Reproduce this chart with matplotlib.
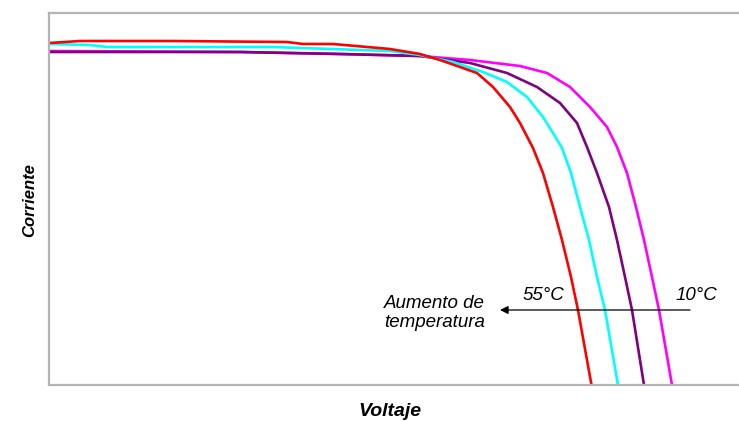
import matplotlib.pyplot as plt

# curvas I-V a distintas temperaturas (voltaje en V, corriente en A)
v_55 = [0, 1.24, 4.96, 9.52, 10.16, 11.36, 13.64, 14.84, 15.64, 16.44, 17.12, 17.76, 18.44,
        18.84, 19.36, 19.76, 20.16, 20.52, 20.88, 21.16, 21.70]
i_55 = [3.42, 3.44, 3.44, 3.43, 3.41, 3.41, 3.36, 3.31, 3.25, 3.18, 3.12, 2.98, 2.78,
        2.62, 2.37, 2.12, 1.78, 1.45, 1.08, 0.75, 0.0]

v_40 = [0, 1.64, 2.32, 8.96, 13.64, 14.84, 16.16, 17.36, 18.32, 19.12, 19.76, 20.16, 20.52,
        20.88, 21.24, 21.60, 21.92, 22.24, 22.76]
i_40 = [3.41, 3.40, 3.38, 3.38, 3.34, 3.30, 3.23, 3.13, 3.03, 2.88, 2.68, 2.52, 2.37,
        2.12, 1.78, 1.45, 1.08, 0.75, 0.0]

v_25 = [0, 7.64, 11.64, 14.84, 16.84, 18.32, 19.52, 20.44, 21.12, 21.52, 21.92, 22.40,
        22.72, 23.04, 23.32, 23.80]
i_25 = [3.33, 3.33, 3.31, 3.29, 3.22, 3.12, 2.98, 2.82, 2.62, 2.38, 2.12, 1.78,
        1.45, 1.08, 0.75, 0.0]

v_10 = [0, 7.64, 11.64, 14.84, 16.84, 18.84, 19.92, 20.84, 21.64, 22.32, 22.72, 23.12,
        23.48, 23.80, 24.12, 24.40, 24.92]
i_10 = [3.34, 3.33, 3.31, 3.29, 3.25, 3.19, 3.12, 2.98, 2.78, 2.58, 2.38, 2.12,
        1.78, 1.45, 1.08, 0.75, 0.0]

plt.rcParams['font.family'] = ['Liberation Sans', 'DejaVu Sans']

fig = plt.figure(figsize=(7.39, 4.21), dpi=100)
ax = fig.add_axes([49 / 739, 36 / 421, 700 / 739, 372 / 421])

lw = 1.9
ax.plot(v_10, i_10, color='#ff00ff', lw=lw, solid_joinstyle='round')
ax.plot(v_25, i_25, color='#800080', lw=lw, solid_joinstyle='round')
ax.plot(v_40, i_40, color='#00ffff', lw=lw, solid_joinstyle='round')
ax.plot(v_55, i_55, color='#ff0000', lw=lw, solid_joinstyle='round')

ax.set_xlim(0, 28)
ax.set_ylim(0, 3.72)
ax.set_xticks([])
ax.set_yticks([])
for s in ax.spines.values():
    s.set_color('#b4b4b4')
    s.set_linewidth(1.6)
ax.spines['right'].set_visible(False)

ax.annotate('', xy=(18.04, 0.75), xytext=(25.64, 0.75),
            arrowprops=dict(arrowstyle='-|>', color='black', lw=0.9,
                            mutation_scale=12, shrinkA=0, shrinkB=0))
ax.text(19.76, 0.89, '55°C', ha='center', va='center', fontsize=13.5, style='italic')
ax.text(25.88, 0.89, '10°C', ha='center', va='center', fontsize=13.5, style='italic')
ax.text(13.4, 0.72, 'Aumento de\ntemperatura', ha='left', va='center',
        fontsize=13.5, style='italic', linespacing=1.1)

fig.text(30 / 739, 1 - 200 / 421, 'Corriente', rotation=90, ha='center', va='center',
         fontsize=12, fontweight='bold', style='italic')
fig.text(390 / 739, 1 - 411 / 421, 'Voltaje', ha='center', va='center',
         fontsize=14, fontweight='bold', style='italic')

fig.savefig('out.png', dpi=100)
